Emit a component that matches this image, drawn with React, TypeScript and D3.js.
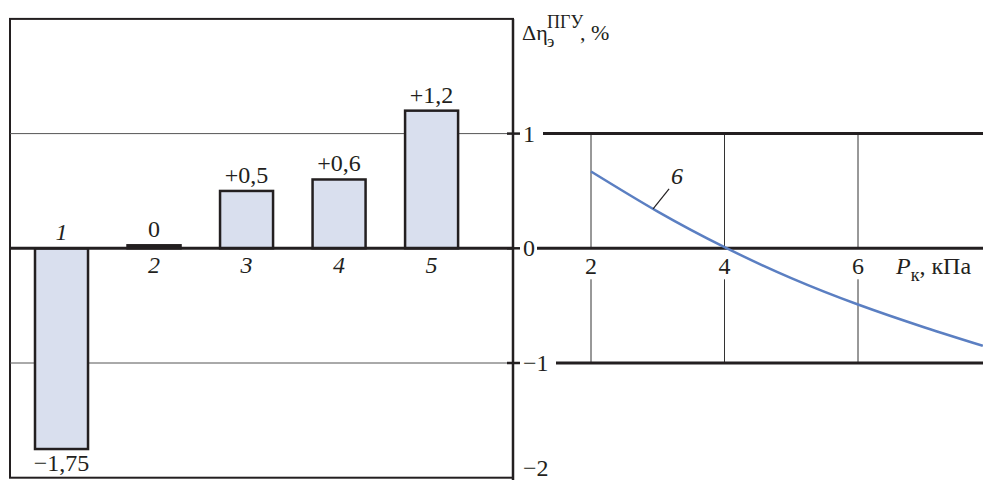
import React from "react";
import * as d3 from "d3";

// Bar panel: efficiency change for configurations 1–5
const categories = ["1", "2", "3", "4", "5"];
const barValues = [-1.75, 0, 0.5, 0.6, 1.2];
const barLabels = ["−1,75", "0", "+0,5", "+0,6", "+1,2"];

// Shared vertical axis
const yTicks = [1, 0, -1, -2];
const yTickLabels = ["1", "0", "−1", "−2"];

// Line panel: efficiency change versus condenser pressure (curve 6)
const pressure = [2, 3, 4, 5, 6, 7, 7.87];
const efficiencyChange = [0.67, 0.32, 0.01, -0.26, -0.49, -0.69, -0.85];
const xTicks = [2, 4, 6];
const xTickLabels = ["2", "4", "6"];
const curveName = "6";

const W = 983;
const H = 480;
const FONT = "'Liberation Serif', 'Times New Roman', serif";
const INK = "#231f20";
const BAR_FILL = "#d9dfee";
const CURVE = "#5b7fc2";

export default function App() {
  const boxLeft = 10;
  const axisX = 513;

  const y = d3.scaleLinear().domain([-2, 2]).range([477.7, 18.9]);
  const x = d3
    .scaleBand<string>()
    .domain(categories)
    .range([15.3, 477.8])
    .paddingInner(0.427)
    .paddingOuter(0.213);
  const xp = d3.scaleLinear().domain([2, 6]).range([591, 858]);

  const y0 = y(0);
  const minBar = 3;

  const line = d3
    .line<number>()
    .x((_, i) => xp(pressure[i]))
    .y((d) => y(d))
    .curve(d3.curveNatural);

  // leader for the curve label
  const leaderP = 2.93;
  const leaderV = d3.scaleLinear().domain(pressure).range(efficiencyChange)(leaderP);
  const lx = xp(leaderP);
  const ly = y(leaderV);

  const lineStart = [543, 537, 556];

  return (
    <svg
      width={W}
      height={H}
      style={{ position: "absolute", left: 0, top: 0, background: "#fff" }}
      fontFamily={FONT}
    >
      {/* left panel frame */}
      <rect
        x={boxLeft}
        y={y(2)}
        width={axisX - boxLeft}
        height={y(-2) - y(2)}
        fill="none"
        stroke={INK}
        strokeWidth={2}
      />
      {/* thin gridlines in bar panel */}
      {[1, -1].map((v) => (
        <line key={v} x1={boxLeft} x2={axisX} y1={y(v)} y2={y(v)} stroke="#555" strokeWidth={1} />
      ))}

      {/* bars */}
      {barValues.map((v, i) => {
        const top = v >= 0 ? Math.min(y(v), y0 - minBar) : y0;
        const h = Math.max(Math.abs(y(v) - y0), minBar);
        return (
          <rect
            key={i}
            x={x(categories[i])}
            y={top}
            width={x.bandwidth()}
            height={h}
            fill={v === 0 ? INK : BAR_FILL}
            stroke={INK}
            strokeWidth={2.5}
          />
        );
      })}

      {/* zero line in bar panel */}
      <line x1={boxLeft} x2={axisX} y1={y0} y2={y0} stroke={INK} strokeWidth={3} />

      {/* value labels */}
      {barValues.map((v, i) => {
        const cx = (x(categories[i]) as number) + x.bandwidth() / 2;
        const top = v >= 0 ? Math.min(y(v), y0 - minBar) : y0;
        const yy = v >= 0 ? top - 8 : y(v) + 22;
        return (
          <text key={i} x={cx} y={yy} textAnchor="middle" fontSize={24} fill={INK}>
            {barLabels[i]}
          </text>
        );
      })}

      {/* category labels */}
      {barValues.map((v, i) => {
        const cx = (x(categories[i]) as number) + x.bandwidth() / 2;
        const yy = v < 0 ? y0 - 8 : y0 + 25;
        return (
          <text key={i} x={cx} y={yy} textAnchor="middle" fontSize={24} fontStyle="italic" fill={INK}>
            {categories[i]}
          </text>
        );
      })}

      {/* vertical axis */}
      <line x1={axisX} x2={axisX} y1={y(2)} y2={H} stroke={INK} strokeWidth={2.5} />
      {yTicks.slice(0, 3).map((v) => (
        <line key={v} x1={axisX - 6} x2={axisX + 7} y1={y(v)} y2={y(v)} stroke={INK} strokeWidth={2.5} />
      ))}
      {yTicks.map((v, i) => (
        <text key={v} x={523} y={v === -2 ? H - 4 : y(v) + 8} fontSize={24} fill={INK}>
          {yTickLabels[i]}
        </text>
      ))}

      {/* axis title */}
      <text x={522} y={40} fontSize={22} fill={INK}>
        Δη
      </text>
      <text x={547} y={47} fontSize={17} fill={INK}>
        э
      </text>
      <text x={547} y={28} fontSize={18} fill={INK}>
        ПГУ
      </text>
      <text x={580} y={40} fontSize={22} fill={INK}>
        , %
      </text>

      {/* right panel: vertical gridlines */}
      {xTicks.map((p) => (
        <g key={p}>
          <line x1={xp(p)} x2={xp(p)} y1={y(1)} y2={y0} stroke="#333" strokeWidth={1} />
          <line x1={xp(p)} x2={xp(p)} y1={y0 + 31} y2={y(-1)} stroke="#333" strokeWidth={1} />
        </g>
      ))}
      {/* right panel: thick horizontal lines */}
      {[1, 0, -1].map((v, i) => (
        <line key={v} x1={lineStart[i]} x2={W} y1={y(v)} y2={y(v)} stroke={INK} strokeWidth={3} />
      ))}
      {xTicks.map((p, i) => (
        <text key={p} x={xp(p)} y={y0 + 26} textAnchor="middle" fontSize={24} fill={INK}>
          {xTickLabels[i]}
        </text>
      ))}
      <text x={896} y={y0 + 26} fontSize={24} fill={INK}>
        <tspan fontStyle="italic">P</tspan>
        <tspan fontSize={18} dy={7}>к</tspan>
        <tspan dy={-7}>, кПа</tspan>
      </text>

      {/* curve 6 */}
      <path d={line(efficiencyChange) ?? ""} fill="none" stroke={CURVE} strokeWidth={2.5} />
      <line x1={lx} y1={ly} x2={lx + 16} y2={ly - 20} stroke={INK} strokeWidth={1.2} />
      <text x={lx + 18} y={ly - 25} fontSize={24} fontStyle="italic" fill={INK}>
        {curveName}
      </text>
    </svg>
  );
}
